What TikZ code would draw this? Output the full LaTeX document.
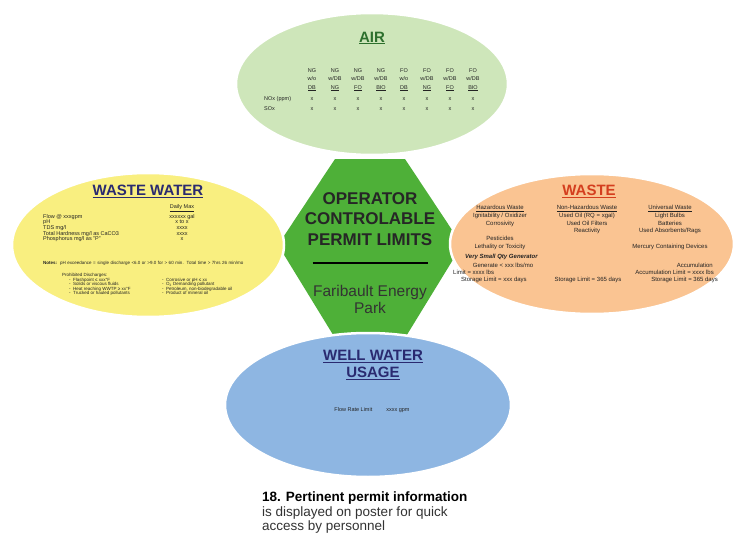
\documentclass[tikz,border=0pt]{standalone}
\usepackage{fontspec}
\setmainfont{Liberation Sans}
\usetikzlibrary{positioning,shapes.geometric}

\definecolor{airfill}{RGB}{206,230,186}
\definecolor{airink}{RGB}{45,112,45}
\definecolor{wwfill}{RGB}{249,239,128}
\definecolor{navyink}{RGB}{42,42,112}
\definecolor{wastefill}{RGB}{250,196,146}
\definecolor{wasteink}{RGB}{212,62,30}
\definecolor{wellfill}{RGB}{142,182,226}
\definecolor{coregreen}{RGB}{78,176,56}
\definecolor{inkgray}{RGB}{35,35,35}

\begin{document}
\begin{tikzpicture}[x=1pt, y=-1pt, node distance=12pt,
    blob/.style={ellipse, draw=white, line width=2.5pt, inner sep=0pt},
    head/.style={font=\fontsize{15}{17}\selectfont\bfseries, align=center},
    tiny/.style={font=\fontsize{5.5}{8.5}\selectfont, text=inkgray, inner sep=1pt, align=center},
    wwtext/.style={font=\fontsize{5.5}{5.7}\selectfont, text=inkgray, inner sep=0pt},
    wwsmall/.style={font=\fontsize{4.5}{4.4}\selectfont, text=inkgray, inner sep=0pt, align=left},
    waste/.style={font=\fontsize{6}{7.8}\selectfont, text=inkgray, inner sep=0pt, align=center}]
  \fill[white] (0,0) rectangle (756,543);
  \useasboundingbox (0,0) rectangle (756,543);

  % centre piece
  \fill[coregreen] (335,159) -- (405,159) -- (462,245) -- (405,338) -- (335,338) -- (278,245) -- cycle;

  % the four areas
  \node (air)    [blob, fill=airfill,   minimum width=272pt, minimum height=142pt] at (372,84)  {};
  \node (wwater) [blob, fill=wwfill,    minimum width=272pt, minimum height=144pt] at (148,245) {};
  \node (waste)  [blob, fill=wastefill, minimum width=284pt, minimum height=140pt] at (592,244) {};
  \node (well)   [blob, fill=wellfill,  minimum width=286pt, minimum height=144pt] at (368,405) {};

  % centre text
  \node (corename) [font=\fontsize{17}{20.5}\selectfont\bfseries, align=center, text=black!85] at (370,219)
    {OPERATOR\\CONTROLABLE\\PERMIT LIMITS};
  \node (bar)  [below=13pt of corename, inner sep=0pt] {\rule{115pt}{1.6pt}};
  \node (site) [below=18pt of bar, font=\fontsize{15.5}{16.5}\selectfont, align=center, text=black!80] {Faribault Energy\\Park};

  % air
  \node (airhead) [head, text=airink] at (372,38) {\underline{AIR}};
  \foreach \h [count=\i from 0] in {{NG\\w/o\\\underline{DB}}, {NG\\w/DB\\\underline{NG}}, {NG\\w/DB\\\underline{FO}},
      {NG\\w/DB\\\underline{BIO}}, {FO\\w/o\\\underline{DB}}, {FO\\w/DB\\\underline{NG}}, {FO\\w/DB\\\underline{FO}},
      {FO\\w/DB\\\underline{BIO}}}
    \node (fuel\i) [tiny, anchor=north] at (312+23*\i,67) {\h};
  \node (noxlbl) [tiny, anchor=west] at (263,99)  {NOx (ppm)};
  \node (soxlbl) [tiny, anchor=west] at (263,109) {SOx};
  \foreach \i in {0,...,7} {
    \node (nox\i) [tiny] at (312+23*\i,99)  {x};
    \node (sox\i) [tiny] at (312+23*\i,109) {x};
  }

  % waste water
  \node (wwhead) [head, text=navyink] at (148,191) {\underline{WASTE WATER}};
  \node (dmax) [wwtext] at (182,208) {\underline{Daily Max}};
  \node (wwrows) [wwtext, anchor=north west, align=left] at (43,214)
    {Flow @ xxxgpm\\pH\\TDS mg/l\\Total Hardness mg/l as CaCO3\\Phosphorus mg/l as "P"};
  \node (wwvals) [wwtext, anchor=north, align=center] at (182,214)
    {xxxxxx gal\\x to x\\xxxx\\xxxx\\x};
  \node (wwnotes) [wwsmall, anchor=north west, text width=216pt] at (43,261)
    {\textbf{Notes:}\ \ pH exceedance = single discharge <6.0 or >9.0 for > 60 min.\ \ Total time > 7hrs 26 min/mo};
  \node (banned) [wwsmall, anchor=north west] at (62,273) {Prohibited Discharges:};
  \node (bannedl) [wwsmall, anchor=north west] at (69,278)
    {-\ \ Flashpoint ≤ xxx°F\\-\ \ Solids or viscous fluids\\-\ \ Heat reaching WWTP ≥ xx°F\\-\ \ Trucked or hauled pollutants};
  \node (bannedr) [wwsmall, anchor=north west] at (162,278)
    {-\ \ Corrosive or pH ≤ xx\\-\ \ O\textsubscript{2} Demanding pollutant\\-\ \ Petroleum, non-biodegradable oil\\-\ \ Product of mineral oil};

  % waste
  \node (wastehead) [head, text=wasteink] at (589,191) {\underline{WASTE}};
  \node (haz) [waste, anchor=north] at (500,205)
    {\underline{Hazardous Waste}\\Ignitability / Oxidizer\\Corrosivity\\[7.8pt]Pesticides\\Lethality or Toxicity};
  \node (nonhaz) [waste, anchor=north] at (587,205)
    {\underline{Non-Hazardous Waste}\\Used Oil (RQ = xgal)\\Used Oil Filters\\Reactivity};
  \node (univ) [waste, anchor=north] at (670,205)
    {\underline{Universal Waste}\\Light Bulbs\\Batteries\\Used Absorbents/Rags\\[7.8pt]Mercury Containing Devices};
  \node (vsqg)     [waste, anchor=west] at (465,257) {\bfseries\itshape Very Small Qty Generator};
  \node (gen)      [waste] at (503,265) {Generate < xxx lbs/mo};
  \node (limit)    [waste, anchor=west] at (453,272) {Limit = xxxx lbs};
  \node (store1)   [waste, anchor=west] at (461,280) {Storage Limit = xxx days};
  \node (store2)   [waste] at (588,280) {Storage Limit = 365 days};
  \node (accum)    [waste, anchor=east] at (713,265) {Accumulation};
  \node (accumlim) [waste, anchor=east] at (714,272) {Accumulation Limit = xxxx lbs};
  \node (store3)   [waste, anchor=east] at (718,280) {Storage Limit = 365 days};

  % well water
  \node (wellhead) [head, text=navyink] at (373,365) {\underline{WELL WATER}\\\underline{USAGE}};
  \node (flowlim)  [tiny] at (372,410) {Flow Rate Limit\hspace{14pt}xxxx gpm};

  % caption
  \node (caption) [anchor=north west, align=left, inner sep=0pt, font=\fontsize{13.5}{14.5}\selectfont] at (262,492)
    {\textbf{18. Pertinent permit information}\\\textcolor{black!80}{is displayed on poster for quick}\\\textcolor{black!80}{access by personnel}};
\end{tikzpicture}
\end{document}
